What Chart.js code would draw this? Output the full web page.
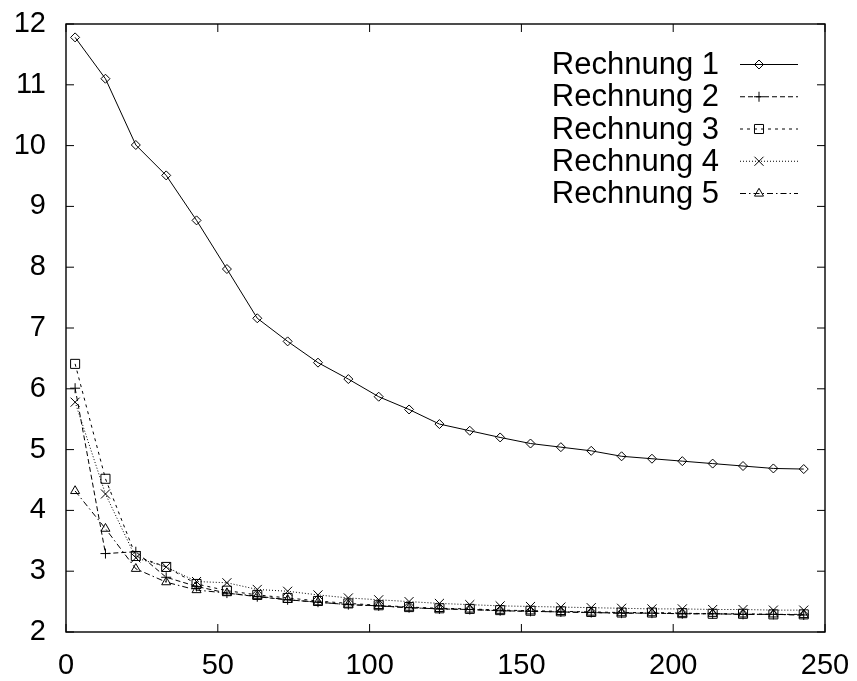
<!DOCTYPE html>
<html>
<head>
<meta charset="utf-8">
<script src="https://cdn.jsdelivr.net/npm/chart.js@4.4.1/dist/chart.umd.min.js"></script>
<style>
  html, body { margin: 0; padding: 0; background: #fff; }
  #box { width: 857px; height: 681px; }
</style>
</head>
<body>
<div id="box"><canvas id="grafico"></canvas></div>
<script>
// Werte
const schritte = [3, 13, 23, 33, 43, 53, 63, 73, 83, 93, 103, 113, 123, 133, 143, 153, 163, 173, 183, 193, 203, 213, 223, 233, 243];
const rechnung1 = [11.78, 11.10, 10.01, 9.51, 8.77, 7.97, 7.16, 6.78, 6.43, 6.16, 5.87, 5.66, 5.42, 5.31, 5.20, 5.10, 5.04, 4.98, 4.89, 4.85, 4.81, 4.77, 4.73, 4.69, 4.68];
const rechnung2 = [6.01, 3.29, 3.32, 2.90, 2.75, 2.64, 2.58, 2.53, 2.49, 2.45, 2.43, 2.40, 2.38, 2.37, 2.35, 2.34, 2.33, 2.32, 2.31, 2.31, 2.30, 2.30, 2.29, 2.29, 2.28];
const rechnung3 = [6.41, 4.52, 3.25, 3.07, 2.79, 2.68, 2.61, 2.56, 2.51, 2.47, 2.44, 2.41, 2.39, 2.38, 2.36, 2.35, 2.34, 2.33, 2.32, 2.32, 2.31, 2.30, 2.30, 2.29, 2.29];
const rechnung4 = [5.78, 4.27, 3.22, 3.07, 2.83, 2.81, 2.70, 2.67, 2.61, 2.56, 2.53, 2.50, 2.47, 2.45, 2.43, 2.42, 2.41, 2.40, 2.39, 2.38, 2.38, 2.37, 2.37, 2.36, 2.36];
const rechnung5 = [4.32, 3.70, 3.04, 2.82, 2.69, 2.64, 2.59, 2.53, 2.49, 2.45, 2.43, 2.40, 2.38, 2.37, 2.35, 2.34, 2.33, 2.32, 2.31, 2.31, 2.30, 2.30, 2.29, 2.29, 2.28];
const namen = ['Rechnung 1', 'Rechnung 2', 'Rechnung 3', 'Rechnung 4', 'Rechnung 5'];
const xTicks = [0, 50, 100, 150, 200, 250];
const yTicks = [2, 3, 4, 5, 6, 7, 8, 9, 10, 11, 12];

const schrift = '"Liberation Sans", Arial, Helvetica, sans-serif';
Chart.defaults.font.family = schrift;
Chart.defaults.color = '#000';

function punkte(werte) {
    return schritte.map((s, i) => ({ x: s, y: werte[i] }));
}

function serie(i, werte, dash, marker, radius) {
    return {
        label: namen[i],
        data: punkte(werte),
        borderColor: '#000',
        borderWidth: 1,
        borderDash: dash,
        pointStyle: marker,
        pointRadius: radius,
        pointBorderWidth: 1,
        pointBorderColor: '#000',
        pointBackgroundColor: 'rgba(0,0,0,0)',
        fill: false,
        tension: 0,
    };
}

// Rahmen mit Strichen nach innen (wie gnuplot)
const rahmen = {
    id: 'rahmen',
    afterDatasetsDraw(chart) {
        const { ctx, chartArea: a, scales: { x, y } } = chart;
        ctx.save();
        ctx.strokeStyle = '#000';
        ctx.lineWidth = 1;
        ctx.beginPath();
        xTicks.forEach(v => {
            const px = x.getPixelForValue(v);
            ctx.moveTo(px, a.bottom); ctx.lineTo(px, a.bottom - 8);
            ctx.moveTo(px, a.top); ctx.lineTo(px, a.top + 8);
        });
        yTicks.forEach(v => {
            const py = y.getPixelForValue(v);
            ctx.moveTo(a.left, py); ctx.lineTo(a.left + 8, py);
            ctx.moveTo(a.right, py); ctx.lineTo(a.right - 8, py);
        });
        ctx.stroke();
        ctx.lineWidth = 1.4;
        ctx.strokeRect(a.left, a.top, a.right - a.left, a.bottom - a.top);
        ctx.restore();
    }
};

// Legende rechts oben: Text rechtsbuendig, Linie mit Marker rechts davon
const legende = {
    id: 'legende',
    afterDatasetsDraw(chart) {
        const { ctx, chartArea: a } = chart;
        ctx.save();
        ctx.font = '31px ' + schrift;
        ctx.textAlign = 'right';
        ctx.textBaseline = 'middle';
        chart.data.datasets.forEach((ds, i) => {
            const yy = a.top + 40.5 + i * 32.25;
            ctx.fillStyle = '#000';
            ctx.fillText(ds.label, a.right - 106, yy + 1);
            ctx.strokeStyle = '#000';
            ctx.lineWidth = 1;
            ctx.setLineDash(ds.borderDash || []);
            ctx.beginPath();
            ctx.moveTo(a.right - 85, yy);
            ctx.lineTo(a.right - 27, yy);
            ctx.stroke();
            ctx.setLineDash([]);
            if (Chart.helpers && Chart.helpers.drawPoint) {
                ctx.fillStyle = 'rgba(0,0,0,0)';
                Chart.helpers.drawPoint(ctx, {
                    pointStyle: ds.pointStyle,
                    radius: ds.pointRadius,
                    rotation: 0,
                    borderWidth: 1
                }, a.right - 66, yy);
            }
        });
        ctx.restore();
    }
};

new Chart(document.getElementById('grafico'), {
    type: 'line',
    data: {
        datasets: [
            serie(0, rechnung1, [], 'rectRot', 4.5),
            serie(1, rechnung2, [5, 3], 'cross', 5),
            serie(2, rechnung3, [3, 4], 'rect', 6.4),
            serie(3, rechnung4, [1, 2], 'crossRot', 6.4),
            serie(4, rechnung5, [6, 3, 1.5, 3], 'triangle', 5.2),
        ]
    },
    plugins: [rahmen, legende],
    options: {
        responsive: true,
        maintainAspectRatio: false,
        animation: false,
        layout: {
            autoPadding: false,
            padding: { top: 24, right: 32, left: 0, bottom: 0 }
        },
        plugins: {
            legend: { display: false },
            tooltip: { enabled: false },
        },
        scales: {
            x: {
                type: 'linear',
                min: 0,
                max: 250,
                afterFit: s => { s.height = 49; s.paddingLeft = 0; s.paddingRight = 0; },
                afterBuildTicks: s => { s.ticks = xTicks.map(v => ({ value: v })); },
                grid: { display: false, drawTicks: false },
                border: { display: false },
                ticks: { font: { size: 29 }, padding: 17, maxRotation: 0 },
            },
            y: {
                type: 'linear',
                min: 2,
                max: 12,
                afterFit: s => { s.width = 66; s.paddingTop = 0; s.paddingBottom = 0; },
                afterBuildTicks: s => { s.ticks = yTicks.map(v => ({ value: v })); },
                grid: { display: false, drawTicks: false },
                border: { display: false },
                ticks: { font: { size: 29 }, padding: 20 },
            }
        }
    }
});
</script>
</body>
</html>
